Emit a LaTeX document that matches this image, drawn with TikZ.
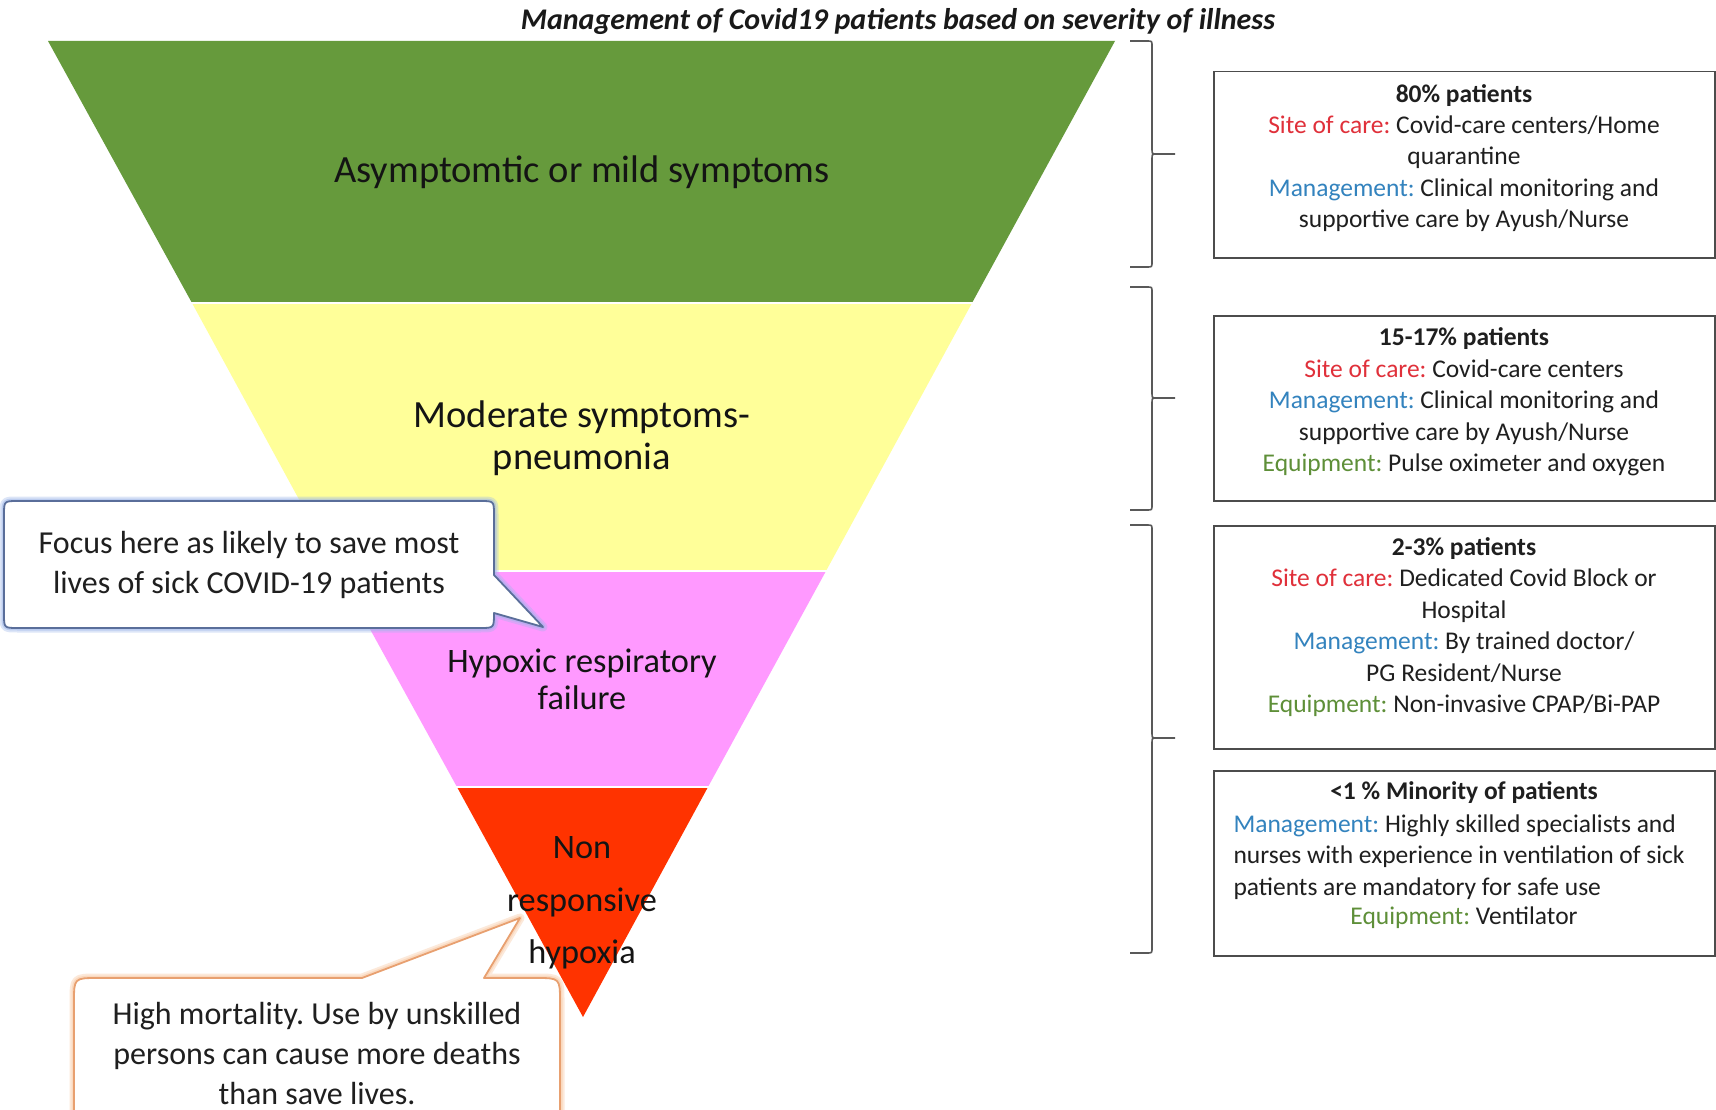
\documentclass[tikz,border=0pt]{standalone}
\usepackage{fontspec}
\setmainfont{Carlito}
\frenchspacing
\definecolor{cgreen}{HTML}{669A3C}
\definecolor{cyellow}{HTML}{FFFF99}
\definecolor{cpink}{HTML}{FF99FF}
\definecolor{cred}{HTML}{FF3300}
\definecolor{sitered}{HTML}{E0303A}
\definecolor{mgmtblue}{HTML}{3383BE}
\definecolor{equipgreen}{HTML}{5E8F38}
\definecolor{bordblue}{HTML}{5A6E9A}
\definecolor{glowblue}{HTML}{9DB6EA}
\definecolor{bordorange}{HTML}{E8A070}
\definecolor{gloworange}{HTML}{F9CFAE}
\newcommand\sitelbl[1]{\textcolor{sitered}{#1}}
\newcommand\mgmtlbl[1]{\textcolor{mgmtblue}{#1}}
\newcommand\equiplbl[1]{\textcolor{equipgreen}{#1}}
\newcommand\calloutApath{(18,501) -- (480,501) .. controls (494,501) .. (494,515) -- (494,575) -- (543,627) -- (494,613) .. controls (494,628) .. (480,628) -- (18,628) .. controls (4,628) .. (4,614) -- (4,515) .. controls (4,501) .. (18,501) -- cycle}
\newcommand\calloutBpath{(74,1130) -- (74,1002) .. controls (74,978) .. (98,978) -- (362,978) -- (520,918) -- (484,978) -- (536,978) .. controls (560,978) .. (560,1002) -- (560,1130) -- cycle}
\begin{document}
\begin{tikzpicture}[x=1pt,y=-1pt,
  sep/.style={draw=white, line width=2pt},
  bandtext/.style={text=black!92, align=center},
  infobox/.style={draw=black!70, line width=1.5pt, fill=white, minimum width=501pt, anchor=north west, inner sep=0pt},
  infotext/.style={align=center, text=black!88, font=\fontsize{25.5}{31.4}\selectfont},
  bracepath/.style={draw=black!65, line width=1.6pt},
  calltext/.style={align=center, text=black!88, inner sep=0pt, font=\fontsize{32}{40}\selectfont}
]
\useasboundingbox (0,0) rectangle (1716,1110);
\fill[white] (0,0) rectangle (1716,1110);

% title
\node[font=\fontsize{30}{34}\selectfont\bfseries\itshape, text=black!90] (title) at (898,21) {Management of Covid19 patients based on severity of illness};

% inverted pyramid bands
\fill[cgreen] (48,41) -- (1115,41) -- (972,303) -- (192,303) -- cycle;
\fill[cyellow] (192,303) -- (972,303) -- (826,571) -- (338,571) -- cycle;
\fill[cpink] (338,571) -- (826,571) -- (708,787) -- (457,787) -- cycle;
\fill[cred] (457,787) -- (708,787) -- (583,1017) -- cycle;
\draw[sep] (190,303) -- (974,303);
\draw[sep] (337,571) -- (827,571);
\draw[sep] (456,787) -- (709,787);

\node[bandtext, font=\fontsize{38.5}{45}\selectfont] (t1) at (582,172) {Asymptomtic or mild symptoms};
\node[bandtext, font=\fontsize{38.5}{42}\selectfont] (t2) at (582,438) {Moderate symptoms-\\pneumonia};
\node[bandtext, font=\fontsize{34.3}{37}\selectfont] (t3) at (582,679) {Hypoxic respiratory\\failure};
\node[bandtext, font=\fontsize{34.3}{52.5}\selectfont] (t4) at (582,903) {Non\\responsive\\hypoxia};

% callout 1 (blue)
\path[draw=glowblue, line width=9pt, opacity=0.35, line join=round] \calloutApath;
\path[draw=glowblue, line width=5pt, opacity=0.5, line join=round] \calloutApath;
\path[fill=white, draw=bordblue, line width=1.8pt, line join=round] \calloutApath;
\node[calltext] (c1) at (249,565) {Focus here as likely to save most\\lives of sick COVID-19 patients};

% callout 2 (orange)
\path[draw=gloworange, line width=9pt, opacity=0.45, line join=round] \calloutBpath;
\path[draw=gloworange, line width=5pt, opacity=0.6, line join=round] \calloutBpath;
\path[fill=white, draw=bordorange, line width=1.8pt, line join=round] \calloutBpath;
\node[calltext] (c2) at (317,1054) {High mortality. Use by unskilled\\persons can cause more deaths\\than save lives.};

% braces
\foreach \ya/\ym/\yb in {41/154/267, 287/398/510, 525/738/953}{
  \draw[bracepath] (1130,\ya) -- (1147,\ya) .. controls (1152,\ya) .. (1152,\ya+5) -- (1152,\ym-5) .. controls (1152,\ym) .. (1157,\ym) -- (1175,\ym);
  \draw[bracepath] (1157,\ym) .. controls (1152,\ym) .. (1152,\ym+5) -- (1152,\yb-5) .. controls (1152,\yb) .. (1147,\yb) -- (1130,\yb);
}

% info boxes
\node[infobox, minimum height=186pt] (b1) at (1213,71) {};
\node[infobox, minimum height=185pt] (b2) at (1213,315) {};
\node[infobox, minimum height=223pt] (b3) at (1213,525) {};
\node[infobox, minimum height=185pt] (b4) at (1213,770) {};

\node[infotext] (i1) at (1464,158) {\textbf{80\% patients}\\\sitelbl{Site of care:} Covid-care centers/Home\\quarantine\\\mgmtlbl{Management:} Clinical monitoring and\\supportive care by Ayush/Nurse};
\node[infotext] (i2) at (1464,402) {\textbf{15-17\% patients}\\\sitelbl{Site of care:} Covid-care centers\\\mgmtlbl{Management:} Clinical monitoring and\\supportive care by Ayush/Nurse\\\equiplbl{Equipment:} Pulse oximeter and oxygen};
\node[infotext] (i3) at (1464,627) {\textbf{2-3\% patients}\\\sitelbl{Site of care:} Dedicated Covid Block or\\Hospital\\\mgmtlbl{Management:} By trained doctor/\\PG Resident/Nurse\\\equiplbl{Equipment:} Non-invasive CPAP/Bi-PAP};
\node[infotext] (i4a) at (1464,793) {\textbf{<1 \% Minority of patients}};
\node[infotext, align=left, anchor=west] (i4b) at (1230,857) {\mgmtlbl{Management:} Highly skilled specialists and\\nurses with experience in ventilation of sick\\patients are mandatory for safe use};
\node[infotext] (i4c) at (1464,918) {\equiplbl{Equipment:} Ventilator};
\end{tikzpicture}
\end{document}
